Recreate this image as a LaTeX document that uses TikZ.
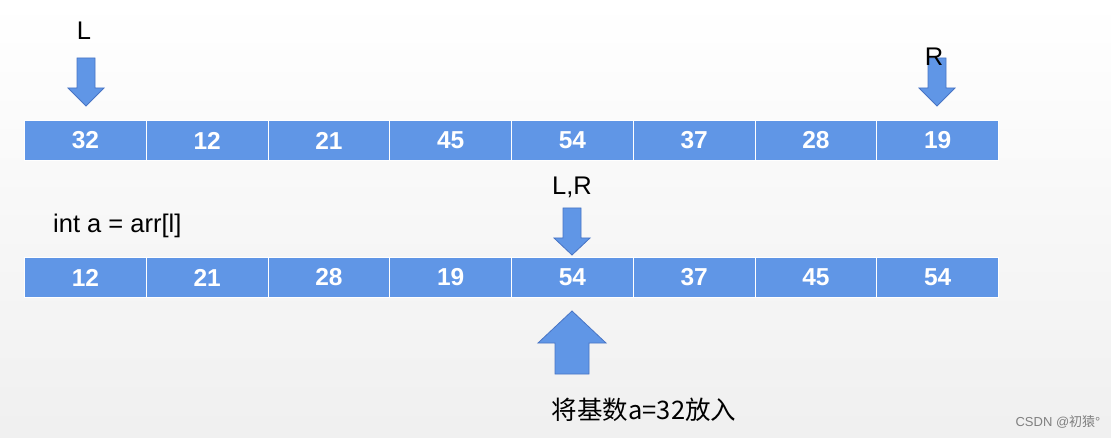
\documentclass[tikz,border=0pt]{standalone}
\usepackage{fontspec}
\setmainfont{Liberation Sans}
\newfontfamily\cjk{Noto Sans CJK SC}
\definecolor{cellblue}{RGB}{96,150,230}
\definecolor{arrowline}{RGB}{72,116,196}
\begin{document}
\begin{tikzpicture}[x=1pt,y=-1pt,
  cell/.style={fill=cellblue, draw=white, line width=1pt, minimum width=121.75pt, minimum height=40pt, inner sep=0pt, text=white, font=\fontsize{24.5}{28}\selectfont\bfseries, anchor=north west},
  lbl/.style={font=\fontsize{25.5}{30}\selectfont, text=black, inner sep=0pt},
  blockarrow/.style={fill=cellblue, draw=arrowline, line width=0.8pt, line join=miter}]
\useasboundingbox (0,0) rectangle (1111,438);
\shade[top color=white, bottom color=black!6] (0,0) rectangle (1111,438);
% rows
\foreach \v [count=\i from 0] in {32,12,21,45,54,37,28,19}
  \node[cell] (a\i) at ({24+121.75*\i},120) {\v};
\foreach \v [count=\i from 0] in {12,21,28,19,54,37,45,54}
  \node[cell] (b\i) at ({24+121.75*\i},257) {\v};
% down arrows
\draw[blockarrow] (77,58) -- (95,58) -- (95,88) -- (104,88) -- (86,106) -- (68,88) -- (77,88) -- cycle;
\draw[blockarrow] (928,58) -- (946,58) -- (946,88) -- (955,88) -- (937,106) -- (919,88) -- (928,88) -- cycle;
\draw[blockarrow] (563,208) -- (581,208) -- (581,238) -- (590,238) -- (572,255) -- (554,238) -- (563,238) -- cycle;
% up arrow
\draw[blockarrow] (572,311) -- (606,343) -- (589,343) -- (589,374) -- (555,374) -- (555,343) -- (538,343) -- cycle;
% labels
\node[lbl] (lL) at (84,31) {L};
\node[lbl] (lR) at (934,57) {R};
\node[lbl] (lLR) at (572,187) {L,R};
\node[lbl, anchor=west] (lint) at (53,226) {int a = arr[l]};
\node[lbl, font=\cjk\fontsize{25.5}{30}\selectfont] (lput) at (644,410) {将基数a=32放入};
\node[font=\fontsize{13}{15}\selectfont, text=black!50, inner sep=0pt] (wm) at (1058,422) {CSDN @{\cjk 初猿}°};
\end{tikzpicture}
\end{document}
